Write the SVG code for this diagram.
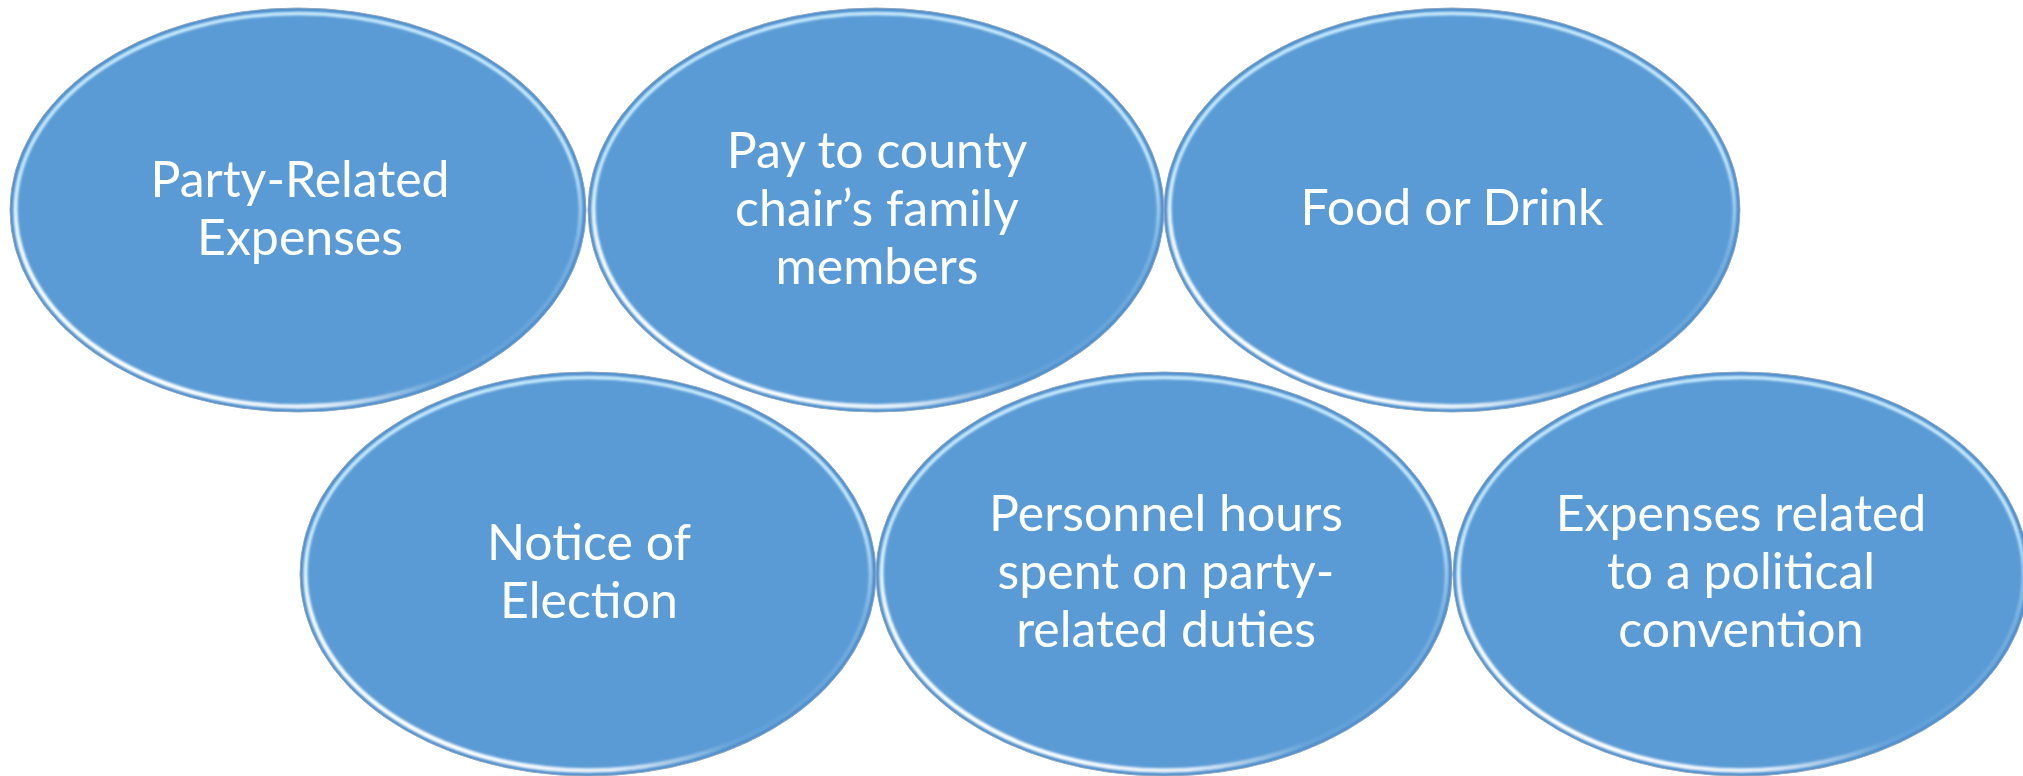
<svg xmlns="http://www.w3.org/2000/svg" xmlns:xlink="http://www.w3.org/1999/xlink" width="2023" height="776" viewBox="0 0 2023 776">
  <style>
    .label { font-family: "Lato", "Liberation Sans", sans-serif; font-size: 50px; fill: #ffffff; text-anchor: middle; }
  </style>
  <defs>
    <!-- soft edge highlight: bright along the top and sides, fading toward lower right -->
    <radialGradient id="rimLight" cx="0.88" cy="0.95" r="0.6" gradientUnits="objectBoundingBox">
      <stop offset="0" stop-color="#c4ebff" stop-opacity="0"/>
      <stop offset="0.6" stop-color="#c4ebff" stop-opacity="0.3"/>
      <stop offset="1" stop-color="#cdefff" stop-opacity="0.95"/>
    </radialGradient>
    <!-- stronger white glint along the lower left -->
    <radialGradient id="rimGlint" cx="0.2" cy="0.9" r="0.55" gradientUnits="objectBoundingBox">
      <stop offset="0" stop-color="#ffffff" stop-opacity="1"/>
      <stop offset="0.65" stop-color="#ffffff" stop-opacity="0.8"/>
      <stop offset="1" stop-color="#ffffff" stop-opacity="0"/>
    </radialGradient>
    <filter id="soft" x="-5%" y="-5%" width="110%" height="110%">
      <feGaussianBlur stdDeviation="0.9"/>
    </filter>
    <!-- bevelled oval, centred on the origin -->
    <g id="bubble">
      <ellipse rx="288" ry="202" fill="#5b9bd5" stroke="#8ea6bf" stroke-width="1"/>
      <ellipse rx="286" ry="200" fill="none" stroke="#5391cd" stroke-width="2.5"/>
      <g filter="url(#soft)">
        <ellipse rx="282.5" ry="196.5" fill="none" stroke="url(#rimLight)" stroke-width="3.5"/>
        <ellipse rx="282.5" ry="196.5" fill="none" stroke="url(#rimGlint)" stroke-width="4.5"/>
      </g>
    </g>
  </defs>

  <g id="connectors"/>

  <g id="node-party-related">
    <use xlink:href="#bubble" x="298" y="210"/>
    <text class="label" x="300" y="197">Party-Related</text>
    <text class="label" x="300" y="255">Expenses</text>
  </g>

  <g id="node-family-pay">
    <use xlink:href="#bubble" x="876" y="210"/>
    <text class="label" x="877" y="168">Pay to county</text>
    <text class="label" x="877" y="226">chair’s family</text>
    <text class="label" x="877" y="284">members</text>
  </g>

  <g id="node-food-drink">
    <use xlink:href="#bubble" x="1452" y="210"/>
    <text class="label" x="1452" y="225">Food or Drink</text>
  </g>

  <g id="node-notice">
    <use xlink:href="#bubble" x="588" y="574"/>
    <text class="label" x="589" y="560">Notice of</text>
    <text class="label" x="589" y="618">Election</text>
  </g>

  <g id="node-personnel">
    <use xlink:href="#bubble" x="1164" y="574"/>
    <text class="label" x="1166" y="531">Personnel hours</text>
    <text class="label" x="1166" y="589">spent on party-</text>
    <text class="label" x="1166" y="647">related duties</text>
  </g>

  <g id="node-convention">
    <use xlink:href="#bubble" x="1741" y="574"/>
    <text class="label" x="1741" y="531">Expenses related</text>
    <text class="label" x="1741" y="589">to a political</text>
    <text class="label" x="1741" y="647">convention</text>
  </g>
</svg>
